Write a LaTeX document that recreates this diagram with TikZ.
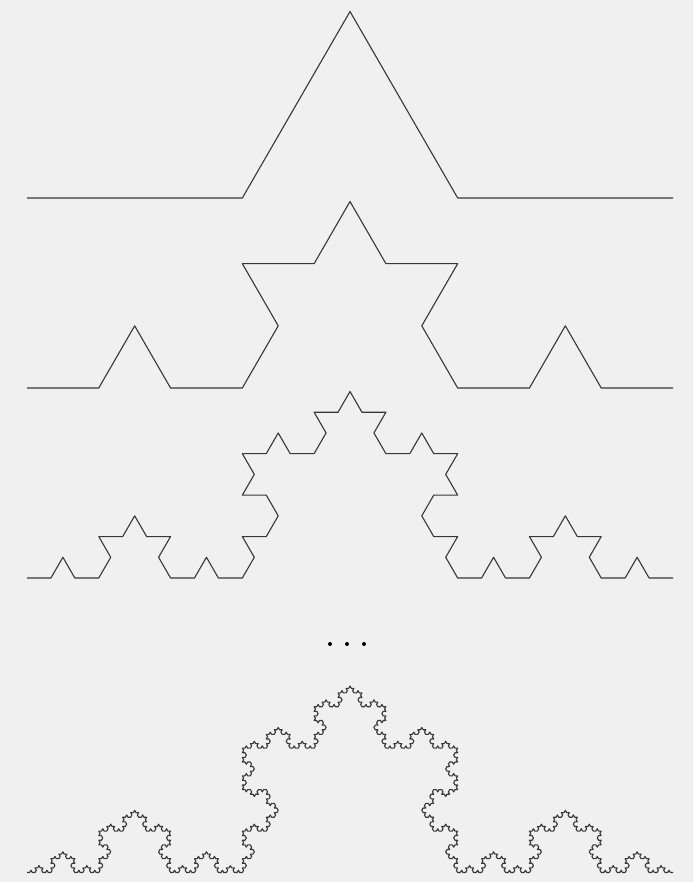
\documentclass[tikz,border=0pt]{standalone}
\definecolor{bgc}{RGB}{240,240,240}
\definecolor{curvec}{RGB}{55,55,55}
\newdimen\kx \newdimen\ky \newdimen\kstep \newcount\kdir
\def\kochgo{%
  \ifcase\kdir
    \advance\kx\kstep
  \or \advance\kx 0.5\kstep \advance\ky 0.8660254\kstep
  \or \advance\kx -0.5\kstep \advance\ky 0.8660254\kstep
  \or \advance\kx -\kstep
  \or \advance\kx -0.5\kstep \advance\ky -0.8660254\kstep
  \or \advance\kx 0.5\kstep \advance\ky -0.8660254\kstep
  \fi
  \pgfpathlineto{\pgfqpoint{\kx}{\ky}}}
\def\kturn#1{\advance\kdir #1\relax
  \ifnum\kdir<0 \advance\kdir 6 \fi
  \ifnum\kdir>5 \advance\kdir -6 \fi}
\def\kochrec#1{\ifnum#1=0 \kochgo\else
  \expandafter\kochrecB\expandafter{\the\numexpr#1-1\relax}\fi}
\def\kochrecB#1{\kochrec{#1}\kturn{1}\kochrec{#1}\kturn{-2}\kochrec{#1}\kturn{1}\kochrec{#1}}
\def\kochcurve#1#2#3#4{%
  \begin{pgfscope}
  \pgfsetstrokecolor{curvec}\pgfsetlinewidth{1.1pt}\pgfsetroundjoin
  \kx=#1pt \ky=#2pt \kstep=#4pt \kdir=0
  \pgfpathmoveto{\pgfqpoint{\kx}{\ky}}\kochrec{#3}\pgfusepath{stroke}
  \end{pgfscope}}
\tikzset{
  dotmark/.style={circle, fill=black, inner sep=0pt, minimum size=4pt}
}
\begin{document}
\begin{tikzpicture}[x=1pt,y=1pt]
\fill[bgc] (0,0) rectangle (693,882);
\useasboundingbox (0,0) rectangle (693,882);
\kochcurve{27}{684}{1}{215.3333}
\kochcurve{27}{494}{2}{71.7778}
\kochcurve{27}{304}{3}{23.9259}
\kochcurve{27}{9.5}{5}{2.65844}
\node[dotmark] (d1) at (330,238) {};
\node[dotmark] (d2) at (347,238) {};
\node[dotmark] (d3) at (364,238) {};
\end{tikzpicture}
\end{document}
